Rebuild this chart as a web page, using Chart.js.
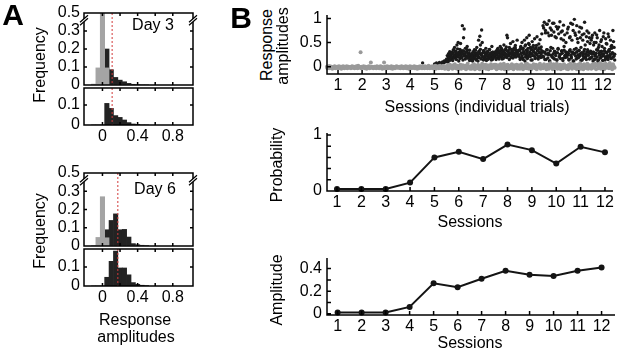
<!DOCTYPE html>
<html lang="en">
<head>
<meta charset="UTF-8">
<title>Response amplitudes across sessions</title>
<script src="https://cdn.jsdelivr.net/npm/chart.js"></script>
<style>
  body { margin: 0; background: #fff; font-family: "Liberation Sans", Arial, sans-serif; }
  #fig { position: relative; width: 617px; height: 354px; overflow: hidden; }
  #fig canvas { position: absolute; }
  .t { position: absolute; font-size: 16px; line-height: 1; white-space: nowrap; transform: translate(-50%, -50%); }
  .r { transform: translate(-50%, -50%) rotate(-90deg); }
  .p { font-size: 30px; font-weight: bold; }
</style>
</head>
<body>
<div id="fig">
  <canvas id="a3top"></canvas>
  <canvas id="a3low"></canvas>
  <canvas id="a6top"></canvas>
  <canvas id="a6low"></canvas>
  <canvas id="bTrials"></canvas>
  <canvas id="bProb"></canvas>
  <canvas id="bAmp"></canvas>

  <div class="t p" style="left:13px;top:15px">A</div>
  <div class="t p" style="left:241px;top:18px">B</div>
  <div class="t" style="left:153px;top:25px">Day 3</div>
  <div class="t" style="left:155px;top:189px">Day 6</div>
  <div class="t r" style="left:40px;top:65px">Frequency</div>
  <div class="t r" style="left:40px;top:231px">Frequency</div>
  <div class="t" style="left:135px;top:320px">Response</div>
  <div class="t" style="left:136px;top:337px">amplitudes</div>
  <div class="t r" style="left:267px;top:45px">Response</div>
  <div class="t r" style="left:283px;top:46px">amplitudes</div>
  <div class="t" style="left:477px;top:107px">Sessions (individual trials)</div>
  <div class="t r" style="left:277px;top:165px">Probability</div>
  <div class="t" style="left:470px;top:222px">Sessions</div>
  <div class="t r" style="left:277px;top:290px">Amplitude</div>
  <div class="t" style="left:470px;top:343px">Sessions</div>
</div>

<script>
// ---- panel A: amplitude histograms (gray = no response, black = response) ----
const binCenters   = [-0.1, -0.05, 0, 0.05, 0.1, 0.15, 0.2, 0.25, 0.3, 0.35, 0.4, 0.45, 0.5];
const day3Gray     = [0.005, 0.095, 0.5, 0.095, 0, 0, 0, 0, 0, 0, 0, 0, 0];
const day3Black    = [0, 0, 0, 0.2, 0.085, 0.042, 0.027, 0.018, 0.009, 0.004, 0.002, 0, 0];
const day3BlackLow = [0, 0, 0, 0.108, 0.083, 0.047, 0.038, 0.025, 0.012, 0.005, 0.003, 0, 0];
const day6Gray     = [0, 0.047, 0.27, 0.045, 0, 0, 0, 0, 0, 0, 0, 0, 0];
const day6Black    = [0, 0, 0, 0.089, 0.14, 0.176, 0.089, 0.091, 0.049, 0.013, 0.007, 0.004, 0.002];
const day6BlackLow = [0, 0, 0, 0.046, 0.13, 0.184, 0.095, 0.095, 0.059, 0.018, 0.009, 0.004, 0.002];
const day3Threshold = 0.11;
const day6Threshold = 0.175;
const histXTicks  = [0, 0.2, 0.4, 0.6, 0.8];
const histXLabels = [0, 0.4, 0.8];
const histYTicks  = [0, 0.1, 0.2, 0.3, 0.4];
const histYLabels = ['0', '0.1', '0.2', '0.3', '0.5'];  // axis is broken between 0.3 and 0.5
const lowYTicks   = [0, 0.1];

// ---- panel B ----
const sessions    = [1, 2, 3, 4, 5, 6, 7, 8, 9, 10, 11, 12];
const probability = [0.035, 0.035, 0.035, 0.15, 0.6, 0.7, 0.57, 0.83, 0.73, 0.49, 0.79, 0.69];
const amplitude   = [0.01, 0.01, 0.01, 0.06, 0.27, 0.235, 0.31, 0.38, 0.345, 0.335, 0.38, 0.41];

// individual trials, one list per session (null = empty slot)
const grayTrials = [
  [-.02,0,-.03,-.01,.01,-.03,.01,-.02,-.01,0,-.04,-.01,-.02,0,.01,-.03,-.01,-.02,0,-.01,-.03,.01,-.02,0,-.01,-.04,0,-.02,.01,-.01,-.03,0,-.02,-.01,.01,-.03,-.01,0,-.02,-.01],
  [-.01,-.03,0,.01,-.02,-.01,0,-.03,-.01,-.02,.01,-.01,-.03,.02,-.02,0,-.01,.30,-.03,0,-.01,-.02,.01,-.01,-.03,0,-.02,-.04,-.01,0,-.02,.01,-.03,-.01,.09,-.02,0,-.01,-.03,-.02],
  [0,-.02,-.01,-.03,.01,-.02,0,-.01,-.03,-.02,.01,-.01,0,-.04,-.02,-.01,.09,-.03,0,-.01,-.02,.01,-.03,-.01,0,-.02,-.01,-.03,.01,-.02,-.04,0,-.01,-.02,-.03,0,-.01,.01,-.02,-.01],
  [-.01,-.02,0,-.03,-.01,.01,-.02,-.01,-.03,0,-.02,-.01,.01,-.03,-.02,0,-.01,-.04,-.02,.01,-.01,-.03,0,-.02,-.01,-.02,.01,-.03,-.01,0,-.02,-.04,-.01,0,-.03,-.01,.01,-.02,-.01,-.03],
  [-.02,0,-.01,-.03,.01,-.02,-.01,0,-.03,-.02,.02,-.01,-.03,0,-.02,-.01,.01,-.03,-.02,0,-.01,.02,-.04,-.01,0,-.02,.01,-.03,-.01,.02,-.02,0,-.03,-.01,.01,-.02,0,-.04,-.01,.01],
  [-.03,.02,-.05,0,.04,-.02,.01,-.04,.03,-.01,.05,-.03,0,.02,-.05,.01,-.02,.04,-.04,0,.03,-.01,-.03,.02,-.05,.01,.06,-.02,0,-.04],
  [.01,-.04,.03,-.02,.05,-.05,0,.02,-.03,.04,-.01,-.05,.02,0,.06,-.03,.01,-.02,.04,-.04,0,.03,-.05,.01,-.02,.05,-.03,.02,-.01,.04],
  [-.02,.04,-.05,.01,.03,-.03,0,.05,-.04,.02,-.01,.06,-.05,.01,.03,-.02,.04,-.04,0,.02,-.03,.05,-.01,-.05,.03,.01,-.02,.04,-.04,0],
  [.03,-.04,.01,.05,-.02,-.05,.02,0,.04,-.03,.06,-.01,-.04,.03,.01,-.05,.02,-.02,.05,0,-.03,.04,-.05,.01,.03,-.01,.06,-.04,.02,-.02],
  [-.03,.05,-.01,.02,-.05,.04,0,-.04,.03,.07,-.02,.01,-.05,.05,-.03,.02,0,.06,-.04,.01,-.02,.04,-.05,.03,0,-.03,.05,-.01,.02,-.04],
  [.02,-.05,.04,-.02,.06,0,-.04,.03,-.01,.05,-.03,.01,-.05,.04,.02,-.02,.07,-.04,0,.03,-.05,.05,-.01,.02,-.03,.06,-.04,.01,.03,-.02],
  [-.04,.03,.05,-.02,0,.06,-.05,.02,.04,-.03,.01,.07,-.04,.03,-.01,.05,-.05,.02,.06,-.02,0,.04,-.03,.08,-.01,.03,-.05,.05,.01,-.02]
];
const blackTrials = [
  [], [], [], [],
  [.08,null,null,null,null,null,null,null,null,null,null,null,null,null,null,null,null,null,null,null,.06,null,null,.08,null,null,.05,null,.09,null,null,.07,null,.1,null,.08,.12,null,.1,.14],
  [.12,.15,.1,.18,.22,.14,.25,.2,.3,.17,.28,.35,.22,.4,.19,.32,.27,.45,.21,.5,.3,.24,.36,.48,.2,.29,.85,.33,.6,.78,.26,.38,.22,.31,.42,.18,.28,.25,.34,.2],
  [.15,.25,.2,.12,.3,.18,.35,.22,.28,.14,.4,.24,.19,.55,.32,.63,.45,.27,.76,.5,.2,.33,.16,.29,.23,.38,.13,.26,.31,.21,.17,.36,.24,.28,.19,.42,.15,.3,.22,.26],
  [.2,.28,.15,.33,.25,.38,.18,.3,.22,.42,.27,.35,.16,.31,.24,.45,.29,.2,.37,.26,.65,.6,.33,.23,.4,.28,.48,.19,.36,.3,.52,.25,.39,.21,.44,.34,.27,.55,.31,.24],
  [.22,.35,.15,.42,.28,.5,.18,.38,.3,.55,.12,.45,.25,.6,.33,.2,.48,.65,.27,.4,.14,.36,.52,.23,.44,.3,.58,.17,.39,.26,.62,.34,.21,.47,.29,.56,.19,.41,.68,.32],
  [.85,.2,.92,.3,.75,.15,.88,.35,.7,.25,.95,.12,.8,.4,.65,.22,.9,.18,.72,.32,.62,.28,.83,.14,.78,.38,.68,.2,.93,.26,.58,.33,.74,.17,.86,.42,.66,.24,.5,.3],
  [.7,.25,.82,.15,.6,.35,.9,.2,.55,.3,.75,.12,.98,.28,.65,.38,.85,.18,.5,.33,.72,.22,.6,.4,.8,.14,.55,.27,.68,.36,.45,.2,.62,.3,.52,.24,.7,.16,.48,.32],
  [.55,.2,.65,.3,.45,.15,.7,.25,.5,.35,.6,.12,.4,.28,.75,.18,.52,.32,.42,.22,.62,.27,.38,.14,.58,.3,.47,.2,.68,.33,.36,.24,.55,.17,.44,.29,.75,.21,.4,.26]
];
// a second pass of response trials, interleaved across the same sessions
const blackTrials2 = [
  [], [], [], [], [],
  [.16,.23,.11,.27,.19,.31,.14,.24,.2,.29,.13,.26,.34,.18,.22,.3,.15,.25,.37,.21,.12,.28,.17,.33,.24,.19,.27,.14,.32,.22,.26,.16,.3,.2,.35,.23,.18,.28,.13,.25],
  [.18,.27,.13,.22,.31,.17,.25,.2,.34,.15,.28,.23,.12,.3,.19,.26,.36,.16,.24,.21,.29,.14,.33,.2,.27,.17,.23,.31,.15,.25,.19,.35,.22,.28,.14,.24,.3,.18,.26,.21],
  [.24,.31,.18,.27,.35,.21,.29,.16,.33,.25,.2,.38,.23,.3,.17,.28,.34,.22,.26,.41,.19,.32,.24,.29,.15,.36,.27,.21,.31,.25,.18,.34,.28,.23,.39,.2,.3,.26,.33,.22],
  [.25,.33,.18,.4,.28,.22,.36,.15,.31,.26,.43,.2,.34,.29,.17,.38,.24,.46,.3,.21,.35,.27,.14,.41,.32,.23,.37,.19,.28,.44,.25,.33,.16,.39,.3,.22,.36,.27,.2,.31],
  [.22,.8,.3,.15,.7,.26,.35,.88,.18,.28,.64,.12,.33,.24,.76,.2,.38,.27,.9,.16,.31,.23,.6,.14,.29,.36,.82,.21,.25,.17,.72,.32,.28,.13,.55,.34,.22,.19,.3,.26],
  [.2,.78,.28,.14,.33,.62,.24,.18,.3,.88,.12,.26,.36,.7,.22,.16,.31,.58,.25,.19,.34,.82,.27,.13,.29,.66,.23,.17,.32,.92,.21,.26,.15,.74,.35,.24,.3,.6,.18,.28],
  [.18,.6,.26,.12,.3,.5,.22,.16,.28,.66,.2,.34,.14,.45,.24,.31,.19,.56,.27,.13,.25,.7,.33,.21,.17,.48,.29,.23,.15,.62,.32,.2,.26,.42,.38,.18,.28,.52,.22,.14]
];

Chart.defaults.font.family = '"Liberation Sans", Arial, sans-serif';
Chart.defaults.font.size = 16;
Chart.defaults.color = '#000';

// axes drawn by hand: MATLAB style with inward ticks
const frame = {
  id: 'frame',
  afterDatasetsDraw(chart, args, o) {
    const { ctx, chartArea: a, scales: { x, y } } = chart;
    ctx.save();
    if (o.threshold != null) {
      const px = x.getPixelForValue(o.threshold);
      ctx.strokeStyle = '#d23a3a';
      ctx.lineWidth = 1;
      ctx.setLineDash([2, 2]);
      ctx.beginPath();
      ctx.moveTo(px, a.top); ctx.lineTo(px, a.bottom);
      ctx.stroke();
      ctx.setLineDash([]);
    }
    ctx.strokeStyle = '#000';
    ctx.lineWidth = 1.5;
    ctx.beginPath();
    if (o.box) {
      ctx.rect(a.left, a.top, a.right - a.left, a.bottom - a.top);
    } else {
      ctx.moveTo(a.left, a.top); ctx.lineTo(a.left, a.bottom); ctx.lineTo(a.right, a.bottom);
    }
    const t = o.tick;
    (o.xTicks || []).forEach(v => {
      const px = x.getPixelForValue(v);
      ctx.moveTo(px, a.bottom); ctx.lineTo(px, a.bottom - t);
      if (o.box) { ctx.moveTo(px, a.top); ctx.lineTo(px, a.top + t); }
    });
    (o.yTicks || []).forEach(v => {
      const py = y.getPixelForValue(v);
      ctx.moveTo(a.left, py); ctx.lineTo(a.left + t, py);
      if (o.box) { ctx.moveTo(a.right, py); ctx.lineTo(a.right - t, py); }
    });
    ctx.stroke();
    if (o.breakAt != null) {
      const yb = y.getPixelForValue(o.breakAt);
      ctx.lineWidth = 1.2;
      [a.left, a.right].forEach(xb => {
        ctx.fillStyle = '#fff';
        ctx.beginPath();
        ctx.moveTo(xb - 4, yb + 2); ctx.lineTo(xb + 4, yb - 5);
        ctx.lineTo(xb + 4, yb - 2); ctx.lineTo(xb - 4, yb + 5);
        ctx.closePath();
        ctx.fill();
        ctx.beginPath();
        ctx.moveTo(xb - 4, yb + 2); ctx.lineTo(xb + 4, yb - 5);
        ctx.moveTo(xb - 4, yb + 5); ctx.lineTo(xb + 4, yb - 2);
        ctx.stroke();
      });
    }
    ctx.restore();
  }
};

// canvas sized so that the plot area lands on box = [left, top, right, bottom]
function place(id, box, yw, xh, padT, padR) {
  const c = document.getElementById(id);
  c.width = yw + box[2] - box[0] + padR;
  c.height = padT + box[3] - box[1] + xh;
  c.style.left = (box[0] - yw) + 'px';
  c.style.top = (box[1] - padT) + 'px';
  return c;
}
const noPad = s => { s.paddingLeft = s.paddingRight = s.paddingTop = s.paddingBottom = 0; };
const fixW = w => s => { s.width = w; noPad(s); };
const fixH = h => s => { s.height = h; noPad(s); };
const quiet = { legend: { display: false }, tooltip: { enabled: false } };

function histogram(id, box, yMax, yTicks, yLabels, gray, black, threshold, showX, breakAt) {
  const bars = (vals, color) => ({
    data: binCenters.map((c, i) => ({ x: c, y: vals[i] })),
    backgroundColor: color, borderWidth: 0, grouped: false,
    barPercentage: 1, categoryPercentage: 1
  });
  const datasets = [];
  if (gray) datasets.push(bars(gray, '#a4a4a4'));
  datasets.push(bars(black, '#232323'));
  const xh = showX ? 26 : 12;
  new Chart(place(id, box, 60, xh, 12, 10), {
    type: 'bar',
    data: { datasets },
    options: {
      responsive: false, animation: false, devicePixelRatio: 1,
      layout: { padding: { top: 12, right: 10, left: 0, bottom: 0 }, autoPadding: false },
      plugins: { ...quiet, frame: { box: true, tick: 3, xTicks: histXTicks, yTicks, threshold, breakAt } },
      scales: {
        x: {
          type: 'linear', min: -0.21, max: 1.03, offset: false,
          grid: { display: false, drawTicks: false }, border: { display: false },
          afterBuildTicks: s => { s.ticks = histXLabels.map(v => ({ value: v })); },
          ticks: { display: showX, autoSkip: false, maxRotation: 0, padding: 2, callback: v => String(v) },
          afterFit: fixH(xh)
        },
        y: {
          min: 0, max: yMax,
          grid: { display: false, drawTicks: false }, border: { display: false },
          afterBuildTicks: s => { s.ticks = yTicks.map(v => ({ value: v })); },
          ticks: { autoSkip: false, padding: 4, callback: (v, i) => yLabels[i] },
          afterFit: fixW(60)
        }
      }
    },
    plugins: [frame]
  });
}

histogram('a3top', [84, 13, 193, 85], 0.4, histYTicks, histYLabels, day3Gray, day3Black, day3Threshold, false, 0.36);
histogram('a3low', [84, 88, 193, 125], 0.185, lowYTicks, ['0', '0.1'], null, day3BlackLow, day3Threshold, true, null);
histogram('a6top', [84, 173, 193, 246], 0.4, histYTicks, histYLabels, day6Gray, day6Black, day6Threshold, false, 0.36);
histogram('a6low', [84, 249, 193, 286], 0.195, lowYTicks, ['0', '0.1'], null, day6BlackLow, day6Threshold, true, null);

function trialPoints(...lists) {
  const pts = [];
  lists.forEach(perSession => perSession.forEach((vals, s) => vals.forEach((v, i) => {
    if (v !== null) pts.push({ x: s + 0.5 + (i + 0.5) / vals.length, y: v });
  })));
  return pts;
}

function sessionChart(id, box, xMin, xMax, yMin, yMax, yLabelTicks, yMarks, datasets, type) {
  new Chart(place(id, box, 50, 26, 10, 2), {
    type,
    data: { datasets },
    options: {
      responsive: false, animation: false, devicePixelRatio: 1,
      layout: { padding: { top: 10, right: 2, left: 0, bottom: 0 }, autoPadding: false },
      plugins: { ...quiet, frame: { box: false, tick: 4, xTicks: sessions, yTicks: yMarks } },
      scales: {
        x: {
          type: 'linear', min: xMin, max: xMax, offset: false,
          grid: { display: false, drawTicks: false }, border: { display: false },
          afterBuildTicks: s => { s.ticks = sessions.map(v => ({ value: v })); },
          ticks: { autoSkip: false, maxRotation: 0, padding: 2, callback: v => String(v) },
          afterFit: fixH(26)
        },
        y: {
          type: 'linear', min: yMin, max: yMax,
          grid: { display: false, drawTicks: false }, border: { display: false },
          afterBuildTicks: s => { s.ticks = yLabelTicks.map(v => ({ value: v })); },
          ticks: { autoSkip: false, padding: 5, callback: v => String(v) },
          afterFit: fixW(50)
        }
      }
    },
    plugins: [frame]
  });
}

const dots = (data, color, r) => ({
  data, pointRadius: r, pointHoverRadius: 0, pointBackgroundColor: color,
  pointBorderWidth: 0, backgroundColor: color, borderWidth: 0, clip: false
});
const trace = values => ({
  data: sessions.map((s, i) => ({ x: s, y: values[i] })),
  borderColor: '#141414', borderWidth: 2, pointRadius: 3, pointHoverRadius: 0,
  pointBackgroundColor: '#141414', pointBorderWidth: 0, tension: 0, clip: false
});

sessionChart('bTrials', [327, 15, 615, 74], 0.543, 12.5, -0.15, 1.07, [0, 0.5, 1], [0, 0.5, 1],
  [dots(trialPoints(grayTrials), '#999999', 2), dots(trialPoints(blackTrials, blackTrials2), '#1a1a1a', 1.7)], 'scatter');
sessionChart('bProb', [327, 133, 613, 191], 0.59, 12.33, 0, 1.036, [0, 1], [0, 0.2, 0.4, 0.6, 0.8, 1],
  [trace(probability)], 'line');
sessionChart('bAmp', [327, 258, 615, 315], 0.557, 12.56, -0.0115, 0.494, [0, 0.2, 0.4], [0, 0.1, 0.2, 0.3, 0.4],
  [trace(amplitude)], 'line');
</script>
</body>
</html>
